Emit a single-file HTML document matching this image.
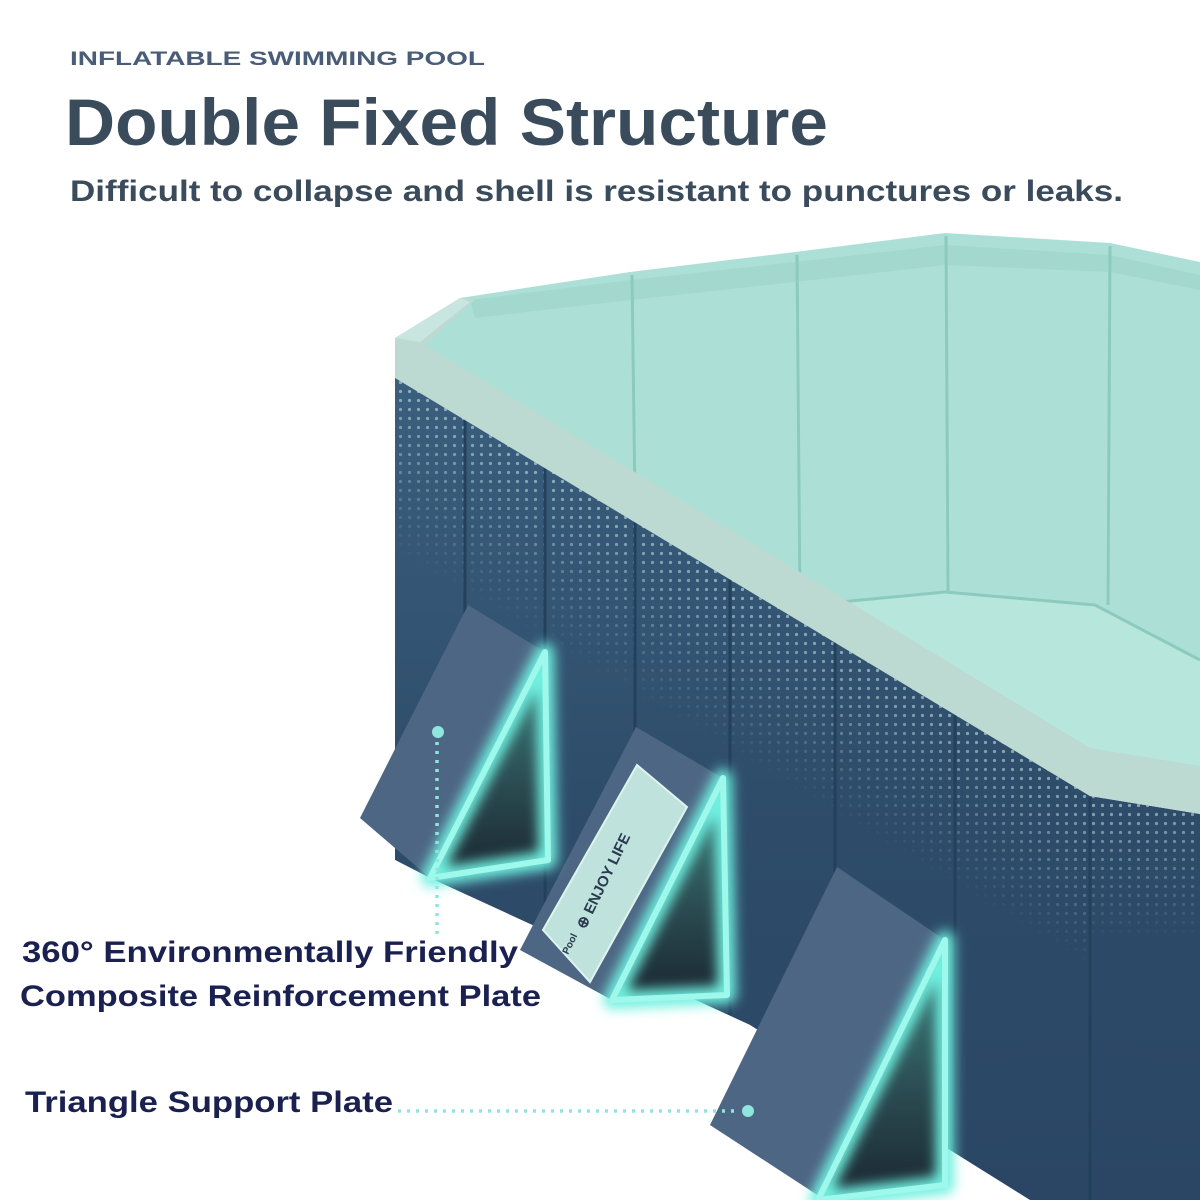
<!DOCTYPE html>
<html><head><meta charset="utf-8"><style>
html,body{margin:0;padding:0;background:#fff;}
svg{display:block;}
text{font-family:"Liberation Sans",sans-serif;font-weight:bold;}
</style></head><body>
<svg width="1200" height="1200" viewBox="0 0 1200 1200" xmlns="http://www.w3.org/2000/svg">
<defs>
<linearGradient id="wall" x1="0" y1="0" x2="0" y2="1">
<stop offset="0" stop-color="#3b5f7e"/><stop offset="0.5" stop-color="#2e4d6b"/><stop offset="1" stop-color="#2a4664"/>
</linearGradient>
<linearGradient id="tri" x1="0" y1="0" x2="0" y2="1">
<stop offset="0" stop-color="#3f8a86"/><stop offset="0.6" stop-color="#2a4a50"/><stop offset="1" stop-color="#1a2630"/>
</linearGradient>
<pattern id="dots" width="9" height="9" patternUnits="userSpaceOnUse">
<circle cx="4.5" cy="4.5" r="1.6" fill="#cfeef0"/>
</pattern>
<linearGradient id="fade" gradientUnits="userSpaceOnUse" x1="395" y1="378" x2="318" y2="507">
<stop offset="0" stop-color="#fff" stop-opacity="0.95"/><stop offset="0.5" stop-color="#fff" stop-opacity="0.5"/><stop offset="1" stop-color="#fff" stop-opacity="0"/>
</linearGradient>
<linearGradient id="fade2" gradientUnits="userSpaceOnUse" x1="0" y1="800" x2="0" y2="940">
<stop offset="0" stop-color="#fff" stop-opacity="0.95"/><stop offset="1" stop-color="#fff" stop-opacity="0"/>
</linearGradient>
<mask id="dm"><rect x="0" y="0" width="1090" height="1200" fill="url(#fade)"/><rect x="1090" y="0" width="110" height="1200" fill="url(#fade2)"/></mask>
<filter id="glow" x="-30%" y="-30%" width="160%" height="160%"><feGaussianBlur stdDeviation="6"/></filter>
</defs>
<rect width="1200" height="1200" fill="#fff"/>
<!-- inner walls -->
<polygon points="420,345 460,298 630,272 795,252 945,233 1110,243 1200,262 1200,770 1090,750 395,340" fill="#ace0d6"/>
<polygon points="470,300 630,280 795,262 945,245 1110,255 1200,275 1200,290 1110,272 945,265 795,282 630,300 475,318" fill="#a2d8cd"/>
<polygon points="840,602 945,592 1095,605 1200,660 1200,770 1090,752" fill="#b7e6dd"/>
<g stroke="#8ccabe" stroke-width="3" fill="none">
<line x1="632" y1="275" x2="635" y2="500"/>
<line x1="797" y1="255" x2="800" y2="600"/>
<line x1="946" y1="236" x2="948" y2="592"/>
<line x1="1110" y1="246" x2="1108" y2="605"/>
<polyline points="840,602 945,592 1095,605 1200,660"/>
</g>
<!-- outer wall -->
<polygon points="395,376 1090,796 1200,814 1200,1200 1030,1200 750,1025 430,878 395,860" fill="url(#wall)"/>
<polygon points="395,376 1090,796 1200,814 1200,1200 1030,1200 750,1025 430,878 395,860" fill="url(#dots)" opacity="0.6" mask="url(#dm)"/>
<polygon points="395,860 430,878 750,1025 700,1200 395,1200" fill="#fff"/>
<g stroke="#23405c" stroke-width="3">
<line x1="465" y1="418" x2="465" y2="880"/>
<line x1="545" y1="467" x2="545" y2="920"/>
<line x1="635" y1="521" x2="635" y2="965"/>
<line x1="730" y1="579" x2="730" y2="1015"/>
<line x1="835" y1="642" x2="835" y2="1075"/>
<line x1="955" y1="715" x2="955" y2="1150"/>
<line x1="1090" y1="797" x2="1090" y2="1200"/>
</g>
<!-- rim -->
<polygon points="395,338 460,298 475,300 425,345 1090,748 1200,766 1200,814 1090,796 395,378" fill="#bcd9d2"/>
<polygon points="395,338 460,298 470,302 420,342" fill="#c8e6df"/>
<!-- plates -->
<polygon points="468,605 545,652 430,878 360,818" fill="#4d6684"/>
<polygon points="636,727 723,778 612,1000 520,950" fill="#4d6684"/>
<polygon points="837,867 945,940 825,1200 710,1125" fill="#4d6684"/>
<!-- card -->
<polygon points="637,765 687,807 590,982 543,930" fill="#bfe3dc" stroke="#dff3ef" stroke-width="2"/>
<text x="0" y="0" font-size="15" fill="#2a3a50" transform="translate(585,930) rotate(-64)">⊕ ENJOY LIFE</text>
<text x="0" y="0" font-size="10" fill="#2a3a50" transform="translate(568,955) rotate(-64)">Pool</text>
<!-- triangles -->
<g>
<polygon points="545,652 548,860 430,878" fill="url(#tri)"/>
<polygon points="545,652 548,860 430,878" fill="none" stroke="#6ff0e0" stroke-width="18" filter="url(#glow)" stroke-linejoin="round"/>
<polygon points="545,652 548,860 430,878" fill="none" stroke="#9ff8ec" stroke-width="6" stroke-linejoin="round"/>
<polygon points="723,778 727,995 612,1000" fill="url(#tri)"/>
<polygon points="723,778 727,995 612,1000" fill="none" stroke="#6ff0e0" stroke-width="18" filter="url(#glow)" stroke-linejoin="round"/>
<polygon points="723,778 727,995 612,1000" fill="none" stroke="#9ff8ec" stroke-width="6" stroke-linejoin="round"/>
<polygon points="945,940 945,1185 818,1200" fill="url(#tri)"/>
<polygon points="945,940 945,1185 818,1200" fill="none" stroke="#6ff0e0" stroke-width="18" filter="url(#glow)" stroke-linejoin="round"/>
<polygon points="945,940 945,1185 818,1200" fill="none" stroke="#9ff8ec" stroke-width="6" stroke-linejoin="round"/>
</g>
<!-- texts -->
<text x="70" y="65" font-size="19" fill="#4a5d78" textLength="415" lengthAdjust="spacingAndGlyphs">INFLATABLE SWIMMING POOL</text>
<text x="65" y="145" font-size="66" fill="#3a4b5c" textLength="763" lengthAdjust="spacingAndGlyphs">Double Fixed Structure</text>
<text x="70" y="201" font-size="30" fill="#3a4b5c" textLength="1053" lengthAdjust="spacingAndGlyphs">Difficult to collapse and shell is resistant to punctures or leaks.</text>
<text x="22" y="962" font-size="30" fill="#1a2050" textLength="496" lengthAdjust="spacingAndGlyphs">360° Environmentally Friendly</text>
<text x="20" y="1006" font-size="30" fill="#1a2050" textLength="521" lengthAdjust="spacingAndGlyphs">Composite Reinforcement Plate</text>
<text x="25" y="1112" font-size="30" fill="#1a2050" textLength="368" lengthAdjust="spacingAndGlyphs">Triangle Support Plate</text>
<!-- dotted leaders -->
<line x1="437" y1="742" x2="437" y2="940" stroke="#8fe6de" stroke-width="3.5" stroke-dasharray="3 6"/>
<circle cx="438" cy="732" r="6" fill="#8fe6de"/>
<line x1="398" y1="1111" x2="740" y2="1111" stroke="#8fe6de" stroke-width="3.5" stroke-dasharray="3 6"/>
<circle cx="748" cy="1111" r="6" fill="#8fe6de"/>
</svg>
</body></html>
